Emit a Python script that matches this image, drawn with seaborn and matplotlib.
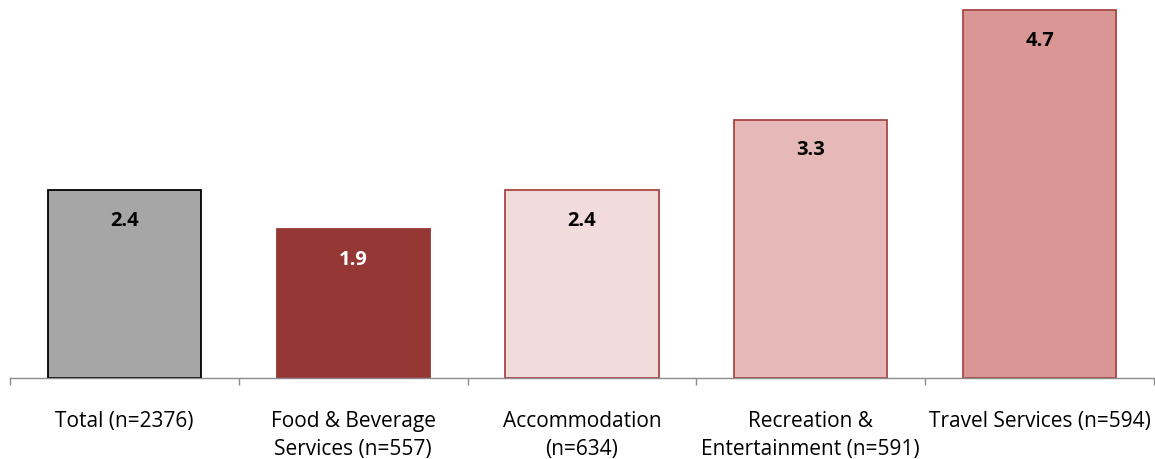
import matplotlib
matplotlib.use("Agg")
import matplotlib.pyplot as plt
import seaborn as sns
import pandas as pd

categories = ["Total (n=2376)", "Food & Beverage\nServices (n=557)", "Accommodation\n(n=634)",
              "Recreation &\nEntertainment (n=591)", "Travel Services (n=594)"]
values = [2.4, 1.9, 2.4, 3.3, 4.7]
fill_colors = ["#A6A6A6", "#953735", "#F2DCDB", "#E6B9B8", "#D99694"]
edge_colors = ["#000000", "#953735", "#A84744", "#A84744", "#A84744"]
label_colors = ["black", "white", "black", "black", "black"]

sns.set_theme(style="white")
plt.rcParams["font.family"] = ["Open Sans", "DejaVu Sans"]

df = pd.DataFrame({"category": categories, "value": values})

fig = plt.figure(figsize=(11.55, 4.59), dpi=100)
ax = fig.add_axes([10 / 1155, 81 / 459, 1144 / 1155, 378 / 459])

sns.barplot(data=df, x="category", y="value", hue="category", palette=fill_colors,
            width=0.67, legend=False, ax=ax, saturation=1)

for patch, ec in zip(ax.patches, edge_colors):
    patch.set_edgecolor(ec)
    patch.set_linewidth(1.3)

for i, (v, c) in enumerate(zip(values, label_colors)):
    ax.annotate(f"{v:.1f}", xy=(i, v), xytext=(0, -22), textcoords="offset points",
                ha="center", va="center", fontsize=14.5, fontweight="bold", color=c)

ax.set_xlim(-0.5, len(categories) - 0.5)
ax.set_ylim(0, 4.83)
ax.set_yticks([])
ax.set_xlabel("")
ax.set_ylabel("")

for side in ["top", "right", "left"]:
    ax.spines[side].set_visible(False)
ax.spines["bottom"].set_color("#8C8C8C")
ax.spines["bottom"].set_linewidth(1.0)

ax.set_xticks(range(len(categories)))
ax.set_xticklabels(categories, fontsize=15, linespacing=1.42, color="black")
ax.tick_params(axis="x", which="major", length=0, pad=24)
ax.set_xticks([i - 0.5 for i in range(len(categories) + 1)], minor=True)
ax.tick_params(axis="x", which="minor", length=5, width=1.0, color="#8C8C8C", bottom=True)

fig.savefig("out.png", dpi=100)
